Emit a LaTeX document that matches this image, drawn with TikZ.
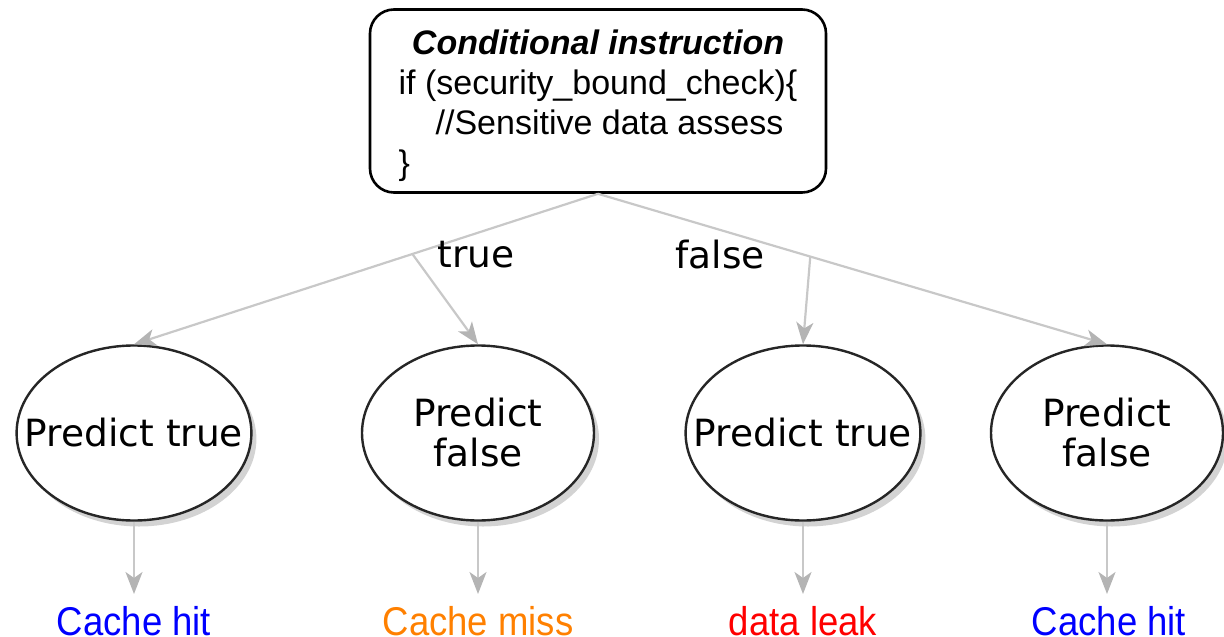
\documentclass[tikz,border=0pt]{standalone}
\usepackage{fontspec}
\setmainfont{Liberation Sans}
\newfontfamily\dv{DejaVu Sans}
\usetikzlibrary{arrows.meta,shapes.geometric,shadows}
\definecolor{edgegray}{HTML}{C8C8C8}
\definecolor{tipgray}{HTML}{B4B4B4}
\definecolor{leakred}{HTML}{FF0000}
\definecolor{missorange}{HTML}{FF8000}
\definecolor{hitblue}{HTML}{0000FF}
\tikzset{
  codebox/.style={draw=black, line width=2.6pt, rounded corners=24pt, minimum width=456pt, minimum height=183pt, inner sep=0pt, fill=white},
  predict/.style={ellipse, draw=black!85, line width=2.4pt, minimum width=232pt, minimum height=175pt, inner xsep=-26pt, inner ysep=0pt, fill=white, align=center,
    font=\dv\fontsize{37.5}{40}\selectfont,
    drop shadow={shadow xshift=5pt, shadow yshift=-6pt, opacity=0.35, fill=gray}},
  conn/.style={draw=edgegray, line width=2.2pt, -{Stealth[length=22pt,width=17pt,inset=6pt,color=tipgray]}},
  branchlabel/.style={font=\dv\fontsize{37.5}{40}\selectfont, inner sep=0pt},
  outcome/.style={font=\fontsize{36.5}{40}\selectfont, inner sep=0pt, anchor=base}
}
\begin{document}
\begin{tikzpicture}[x=1pt,y=-1pt]
\useasboundingbox (0,0) rectangle (1224,637);
\node[codebox] (top) at (598,101) {};
\node (code) at (598,106) {\fontsize{34}{40}\selectfont
  \begin{tabular}{@{}l@{}}
  \multicolumn{1}{@{}c@{}}{\bfseries\itshape Conditional instruction}\\
  if (security\_bound\_check)\{\\
  \hspace*{37pt}//Sensitive data assess\\
  \}
  \end{tabular}};
\node[predict] (p1) at (134,433) {Predict true};
\node[predict] (p2) at (478,433) {Predict\\false};
\node[predict] (p3) at (803,433) {Predict true};
\node[predict] (p4) at (1107,433) {Predict\\false};
\path (top.south) -- (p1.north) coordinate[pos=0.4] (b1);
\path (top.south) -- (p4.north) coordinate[pos=0.417] (b2);
\draw[conn] (top.south) -- (p1.north);
\draw[conn] (top.south) -- (p4.north);
\draw[conn] (b1) -- (p2.north);
\draw[conn] (b2) -- (p3.north);
\node[branchlabel] (lt) at (476,255) {true};
\node[branchlabel] (lf) at (720,255) {false};
\node[outcome, text=hitblue] (o1) at (134,635) {\scalebox{1}[1.1]{Cache hit}};
\node[outcome, text=missorange] (o2) at (478,635) {\scalebox{1}[1.1]{Cache miss}};
\node[outcome, text=leakred] (o3) at (803,635) {\scalebox{1}[1.1]{data leak}};
\node[outcome, text=hitblue] (o4) at (1109,635) {\scalebox{1}[1.1]{Cache hit}};
\coordinate (t1) at (134,594);
\coordinate (t2) at (478,594);
\coordinate (t3) at (803,594);
\coordinate (t4) at (1107,594);
\draw[conn] (p1.south) -- (t1);
\draw[conn] (p2.south) -- (t2);
\draw[conn] (p3.south) -- (t3);
\draw[conn] (p4.south) -- (t4);
\end{tikzpicture}
\end{document}
